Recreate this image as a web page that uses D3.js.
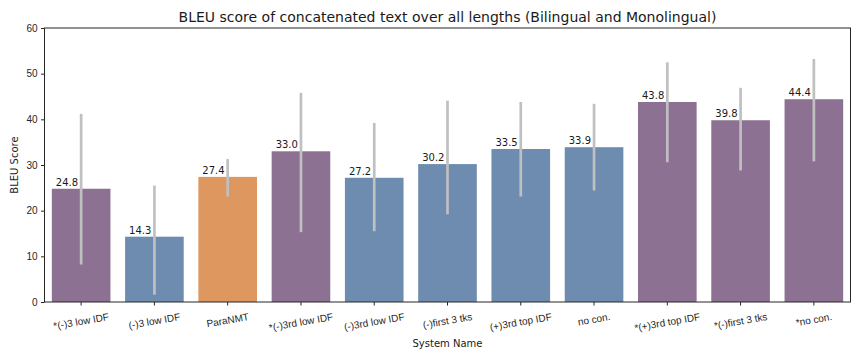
<!DOCTYPE html>
<html lang="en">
<head>
    <meta charset="UTF-8" />
    <title>BLEU score bar chart</title>
    <script src="https://d3js.org/d3.v7.min.js"></script>
    <style>
        body {
            margin: 0;
            background: #fff;
            font-family: "DejaVu Sans", sans-serif;
        }
        .tick text {
            font-size: 10px;
            fill: #262626;
        }
        .val-label {
            font-size: 10px;
            fill: #1a1a1a;
        }
        .err {
            stroke: #c0c0c0;
            stroke-width: 2.7;
        }
    </style>
</head>
<body>
    <div id="chart"></div>

    <script>
        // chart data
        var systems = ["*(-)3 low IDF", "(-)3 low IDF", "ParaNMT", "*(-)3rd low IDF", "(-)3rd low IDF",
                       "(-)first 3 tks", "(+)3rd top IDF", "no con.", "*(+)3rd top IDF", "*(-)first 3 tks", "*no con."];
        var groups = ["mono", "bi", "para", "mono", "bi", "bi", "bi", "bi", "mono", "mono", "mono"];
        var scores = [24.8, 14.3, 27.4, 33.0, 27.2, 30.2, 33.5, 33.9, 43.8, 39.8, 44.4];
        var errLow = [8.2, 1.6, 23.1, 15.3, 15.5, 19.2, 23.1, 24.4, 30.6, 28.8, 30.8];
        var errHigh = [41.2, 25.5, 31.3, 45.8, 39.2, 44.1, 43.8, 43.4, 52.5, 46.9, 53.2];
        var yTicks = [0, 10, 20, 30, 40, 50, 60];

        var w = 864, h = 360;
        var margin = {top: 28, right: 13.5, bottom: 58, left: 44.5};
        var iw = w - margin.left - margin.right;
        var ih = h - margin.top - margin.bottom;

        var color = d3.scaleOrdinal()
            .domain(["mono", "bi", "para"])
            .range(["#8c7193", "#6e8caf", "#dd975f"]);

        var xScale = d3.scaleBand()
            .domain(systems)
            .range([0, iw])
            .paddingInner(0.2)
            .paddingOuter(0.1);

        var yScale = d3.scaleLinear()
            .domain([0, 60])
            .range([ih, 0]);

        var svg = d3.select("#chart")
            .append("svg")
            .attr("width", w)
            .attr("height", h);

        var g = svg.append("g")
            .attr("transform", "translate(" + margin.left + "," + margin.top + ")");

        var data = systems.map(function(s, i) {
            return {name: s, group: groups[i], score: scores[i], lo: errLow[i], hi: errHigh[i]};
        });

        // bars
        g.selectAll(".bar")
            .data(data)
            .enter()
            .append("rect")
            .attr("class", "bar")
            .attr("x", function(d) { return xScale(d.name); })
            .attr("y", function(d) { return yScale(d.score); })
            .attr("width", xScale.bandwidth())
            .attr("height", function(d) { return ih - yScale(d.score); })
            .attr("fill", function(d) { return color(d.group); });

        // error bars
        g.selectAll(".err")
            .data(data)
            .enter()
            .append("line")
            .attr("class", "err")
            .attr("x1", function(d) { return xScale(d.name) + xScale.bandwidth() / 2; })
            .attr("x2", function(d) { return xScale(d.name) + xScale.bandwidth() / 2; })
            .attr("y1", function(d) { return yScale(d.lo); })
            .attr("y2", function(d) { return yScale(d.hi); });

        // value labels
        g.selectAll(".val-label")
            .data(data)
            .enter()
            .append("text")
            .attr("class", "val-label")
            .attr("x", function(d) { return xScale(d.name) + 4; })
            .attr("y", function(d) { return yScale(d.score) - 3; })
            .text(function(d) { return d.score.toFixed(1); });

        // y axis
        var yAxis = g.append("g")
            .call(d3.axisLeft(yScale).tickValues(yTicks).tickSize(3.5).tickPadding(3.5));
        yAxis.select(".domain").remove();
        yAxis.selectAll(".tick line").attr("stroke", "#262626");

        // x axis
        var xAxis = g.append("g")
            .attr("transform", "translate(0," + ih + ")")
            .call(d3.axisBottom(xScale).tickSize(3.5).tickPadding(3.5));
        xAxis.select(".domain").remove();
        xAxis.selectAll(".tick line").attr("stroke", "#262626");

        // rotate tick labels, keeping rotated bbox top just below tick
        var ang = 10 * Math.PI / 180;
        xAxis.selectAll(".tick text")
            .attr("dy", null)
            .attr("y", null)
            .attr("dominant-baseline", "central")
            .attr("text-anchor", "middle")
            .attr("transform", function() {
                var tw = this.getComputedTextLength();
                var th = 10;
                var bh = tw * Math.sin(ang) + th * Math.cos(ang);
                return "translate(0," + (9.5 + bh / 2) + ") rotate(-10)";
            });

        // frame
        g.append("rect")
            .attr("x", 0)
            .attr("y", 0)
            .attr("width", iw)
            .attr("height", ih)
            .attr("fill", "none")
            .attr("stroke", "#262626")
            .attr("stroke-width", 1);

        // title
        svg.append("text")
            .attr("x", margin.left + iw / 2)
            .attr("y", 21.5)
            .attr("text-anchor", "middle")
            .style("font-size", "14px")
            .style("fill", "#1a1a1a")
            .text("BLEU score of concatenated text over all lengths (Bilingual and Monolingual)");

        // axis titles
        svg.append("text")
            .attr("x", margin.left + iw / 2)
            .attr("y", 346.5)
            .attr("text-anchor", "middle")
            .style("font-size", "10px")
            .style("fill", "#1a1a1a")
            .text("System Name");

        svg.append("text")
            .attr("transform", "translate(17.5," + (margin.top + ih / 2) + ") rotate(-90)")
            .attr("text-anchor", "middle")
            .style("font-size", "10px")
            .style("fill", "#1a1a1a")
            .text("BLEU Score");
    </script>
</body>
</html>
